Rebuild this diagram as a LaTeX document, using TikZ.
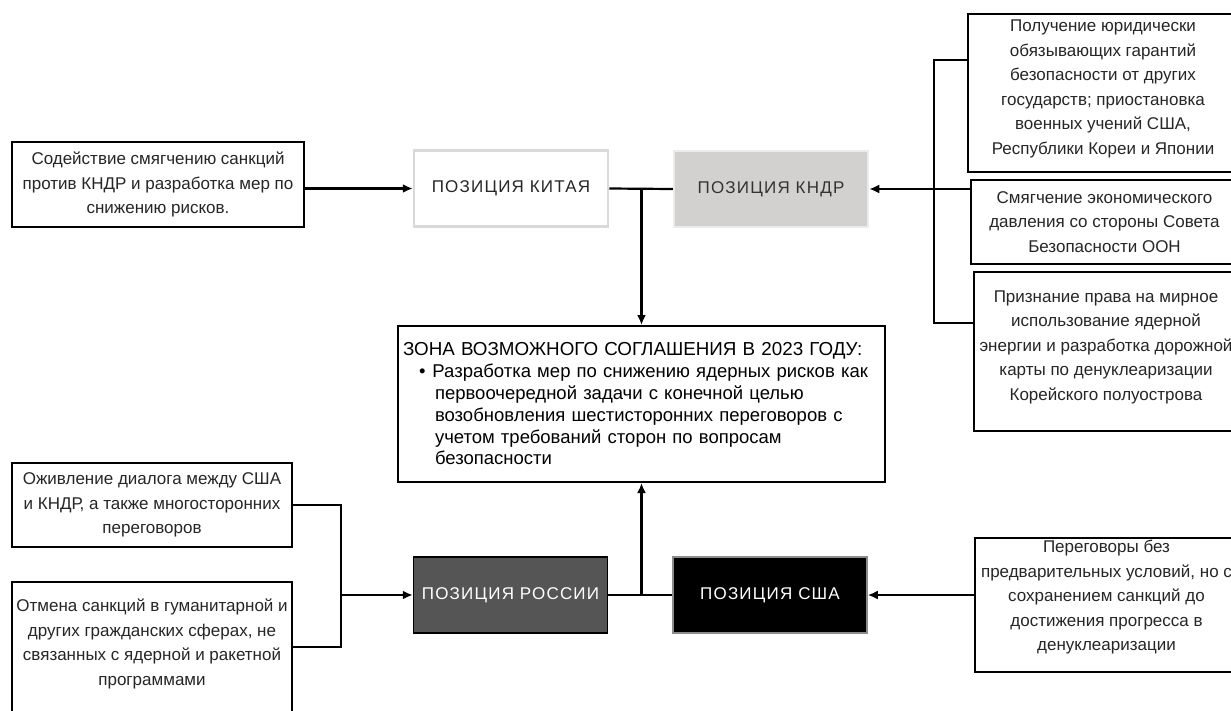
\documentclass[tikz,border=0pt]{standalone}
\usepackage{fontspec}
\setmainfont{Liberation Sans}
\newfontfamily\posfont[LetterSpace=7]{Liberation Sans}
\usetikzlibrary{arrows.meta}

\definecolor{kndrgray}{RGB}{211,209,207}
\definecolor{rusgray}{RGB}{85,85,85}

\tikzset{
    inbox/.style={draw=black, line width=2pt, fill=white, text=black!85,
        align=center, inner sep=0pt, font=\fontsize{17}{24.5}\selectfont},
    posbox/.style={line width=2.5pt, minimum width=194pt, minimum height=76pt,
        inner sep=0pt, font=\posfont\fontsize{17}{18}\selectfont},
    zonebox/.style={draw=black, line width=2pt, fill=white, align=left,
        text width=477pt, minimum height=156pt, inner xsep=5pt, inner ysep=0pt,
        font=\fontsize{18.5}{21.8}\selectfont},
    link/.style={line width=2.2pt},
    post/.style={-{Latex[length=10pt,width=9pt]}}
}

\begin{document}
\begin{tikzpicture}[x=1pt, y=-1pt]

    \clip (0,0) rectangle (1231,710);
    \fill[white] (0,0) rectangle (1231,710);

    % draw nodes
    \node[posbox, draw=black!15, fill=white, text=black!85] (china) at (511,188.5) {ПОЗИЦИЯ КИТАЯ};
    \node[posbox, draw=black!8, fill=kndrgray, text=black!80] (kndr) at (771,189) {ПОЗИЦИЯ КНДР};
    \node[posbox, draw=black, line width=1.5pt, fill=rusgray, text=white] (russia) at (510.5,595) {ПОЗИЦИЯ РОССИИ};
    \node[posbox, draw=black!45, line width=1.5pt, fill=black, text=white] (usa) at (770,595) {ПОЗИЦИЯ США};

    \node[zonebox] (zone) at (641.5,404) {{\fontsize{18.8}{21.8}\selectfont ЗОНА ВОЗМОЖНОГО СОГЛАШЕНИЯ В 2023 ГОДУ:}\\
        \hspace*{16pt}\textbullet\hspace*{7pt}Разработка мер по снижению ядерных рисков как\\
        \hspace*{32pt}первоочередной задачи с конечной целью\\
        \hspace*{32pt}возобновления шестисторонних переговоров с\\
        \hspace*{32pt}учетом требований сторон по вопросам\\
        \hspace*{32pt}безопасности};

    \node[inbox, minimum width=292pt, minimum height=85pt] (sanc) at (158,184.5)
        {Содействие смягчению санкций\\против КНДР и разработка мер по\\снижению рисков.};
    \node[inbox, minimum width=270pt, minimum height=158pt, text depth=12pt] (guar) at (1103,93)
        {Получение юридически\\обязывающих гарантий\\безопасности от других\\государств; приостановка\\военных учений США,\\Республики Кореи и Японии};
    \node[inbox, minimum width=267pt, minimum height=84pt] (econ) at (1104.5,222)
        {Смягчение экономического\\давления со стороны Совета\\Безопасности ООН};
    \node[inbox, minimum width=264pt, minimum height=159pt, text depth=12pt] (atom) at (1106,351.5)
        {Признание права на мирное\\использование ядерной\\энергии и разработка дорожной\\карты по денуклеаризации\\Корейского полуострова};
    \node[inbox, minimum width=263pt, minimum height=134pt, text depth=19pt] (talks) at (1106.5,605)
        {Переговоры без\\предварительных условий, но с\\сохранением санкций до\\достижения прогресса в\\денуклеаризации};
    \node[inbox, minimum width=280pt, minimum height=84pt] (dial) at (152,505)
        {Оживление диалога между США\\и КНДР, а также многосторонних\\переговоров};
    \node[inbox, minimum width=280pt, minimum height=143pt, text depth=23pt] (canc) at (152,653.5)
        {Отмена санкций в гуманитарной и\\других гражданских сферах, не\\связанных с ядерной и ракетной\\программами};

    \coordinate (rtop) at (934,60);
    \coordinate (rbot) at (934,323);
    \coordinate (lbus) at (341,647);

    % draw edges
    \draw[link, post] (sanc.east |- china.west) -- (china.west);
    \draw[link] (china.east) -- (kndr.west);
    \draw[link, post] (china.east -| zone.north) -- (zone.north);
    \draw[link, post] (econ.west |- kndr.east) -- (kndr.east);
    \draw[link] (guar.west |- rtop) -- (rtop) -- (rbot) -- (atom.west |- rbot);

    \draw[link] (russia.east) -- (usa.west);
    \draw[link, post] (russia.east -| zone.south) -- (zone.south);
    \draw[link, post] (talks.west |- usa.east) -- (usa.east);
    \draw[link] (dial.east) -| (lbus) -- (lbus -| canc.east);
    \draw[link, post] (lbus |- russia.west) -- (russia.west);

\end{tikzpicture}
\end{document}
